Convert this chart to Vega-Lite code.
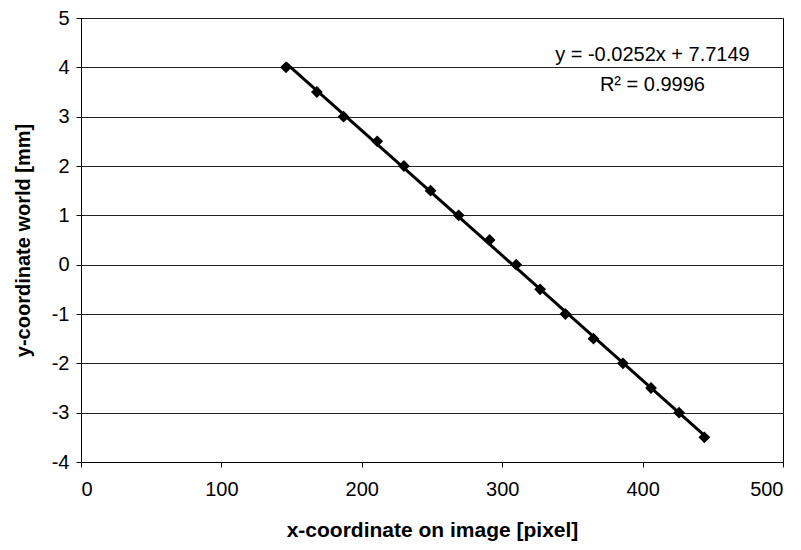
{
  "$schema": "https://vega.github.io/schema/vega-lite/v6.json",
  "autosize": "none",
  "width": 702,
  "height": 444,
  "padding": {"left": 81, "top": 18, "right": 18, "bottom": 88},
  "background": "white",
  "config": {
    "font": "Liberation Sans",
    "view": {"stroke": "black", "strokeWidth": 1},
    "axis": {
      "gridColor": "#222222",
      "gridWidth": 1,
      "gridOpacity": 1,
      "domainColor": "black",
      "tickColor": "black",
      "tickSize": 5,
      "labelFont": "Liberation Sans",
      "labelFontSize": 20,
      "labelColor": "black",
      "titleFont": "Liberation Sans",
      "titleFontWeight": "bold",
      "titleColor": "black"
    }
  },
  "datasets": {
    "pts": [
      {"x": 146, "y": 4},
      {"x": 168, "y": 3.5},
      {"x": 187, "y": 3},
      {"x": 211, "y": 2.5},
      {"x": 230, "y": 2},
      {"x": 249, "y": 1.5},
      {"x": 269, "y": 1},
      {"x": 291, "y": 0.5},
      {"x": 310, "y": 0},
      {"x": 327, "y": -0.5},
      {"x": 345, "y": -1},
      {"x": 365, "y": -1.5},
      {"x": 386, "y": -2},
      {"x": 406, "y": -2.5},
      {"x": 426, "y": -3},
      {"x": 444, "y": -3.5}
    ],
    "notes": [
      {"x": 407, "y": 4.26, "label": "y = -0.0252x + 7.7149"},
      {"x": 407, "y": 3.65, "label": "R² = 0.9996"}
    ]
  },
  "layer": [
    {
      "data": {"name": "pts"},
      "transform": [{"regression": "y", "on": "x"}],
      "mark": {"type": "line", "color": "black", "strokeWidth": 3},
      "encoding": {
        "x": {
          "field": "x", "type": "quantitative",
          "scale": {"domain": [0, 500], "nice": false},
          "axis": {"values": [0, 100, 200, 300, 400, 500], "grid": false, "title": "x-coordinate on image [pixel]", "titleFontSize": 21, "labelPadding": 12, "titlePadding": 20, "labelExpr": "'' + datum.value"}
        },
        "y": {
          "field": "y", "type": "quantitative",
          "scale": {"domain": [-4, 5], "nice": false},
          "axis": {"values": [-4, -3, -2, -1, 0, 1, 2, 3, 4, 5], "grid": true, "title": "y-coordinate world [mm]", "titleFontSize": 20, "labelPadding": 7, "titlePadding": 18, "labelExpr": "'' + datum.value"}
        }
      }
    },
    {
      "data": {"name": "pts"},
      "mark": {"type": "point", "shape": "diamond", "filled": true, "color": "black", "size": 140, "opacity": 1},
      "encoding": {
        "x": {"field": "x", "type": "quantitative"},
        "y": {"field": "y", "type": "quantitative"}
      }
    },
    {
      "data": {"name": "notes"},
      "mark": {"type": "text", "font": "Liberation Sans", "fontSize": 20, "color": "black", "align": "center", "baseline": "middle"},
      "encoding": {
        "x": {"field": "x", "type": "quantitative"},
        "y": {"field": "y", "type": "quantitative"},
        "text": {"field": "label"}
      }
    }
  ]
}
